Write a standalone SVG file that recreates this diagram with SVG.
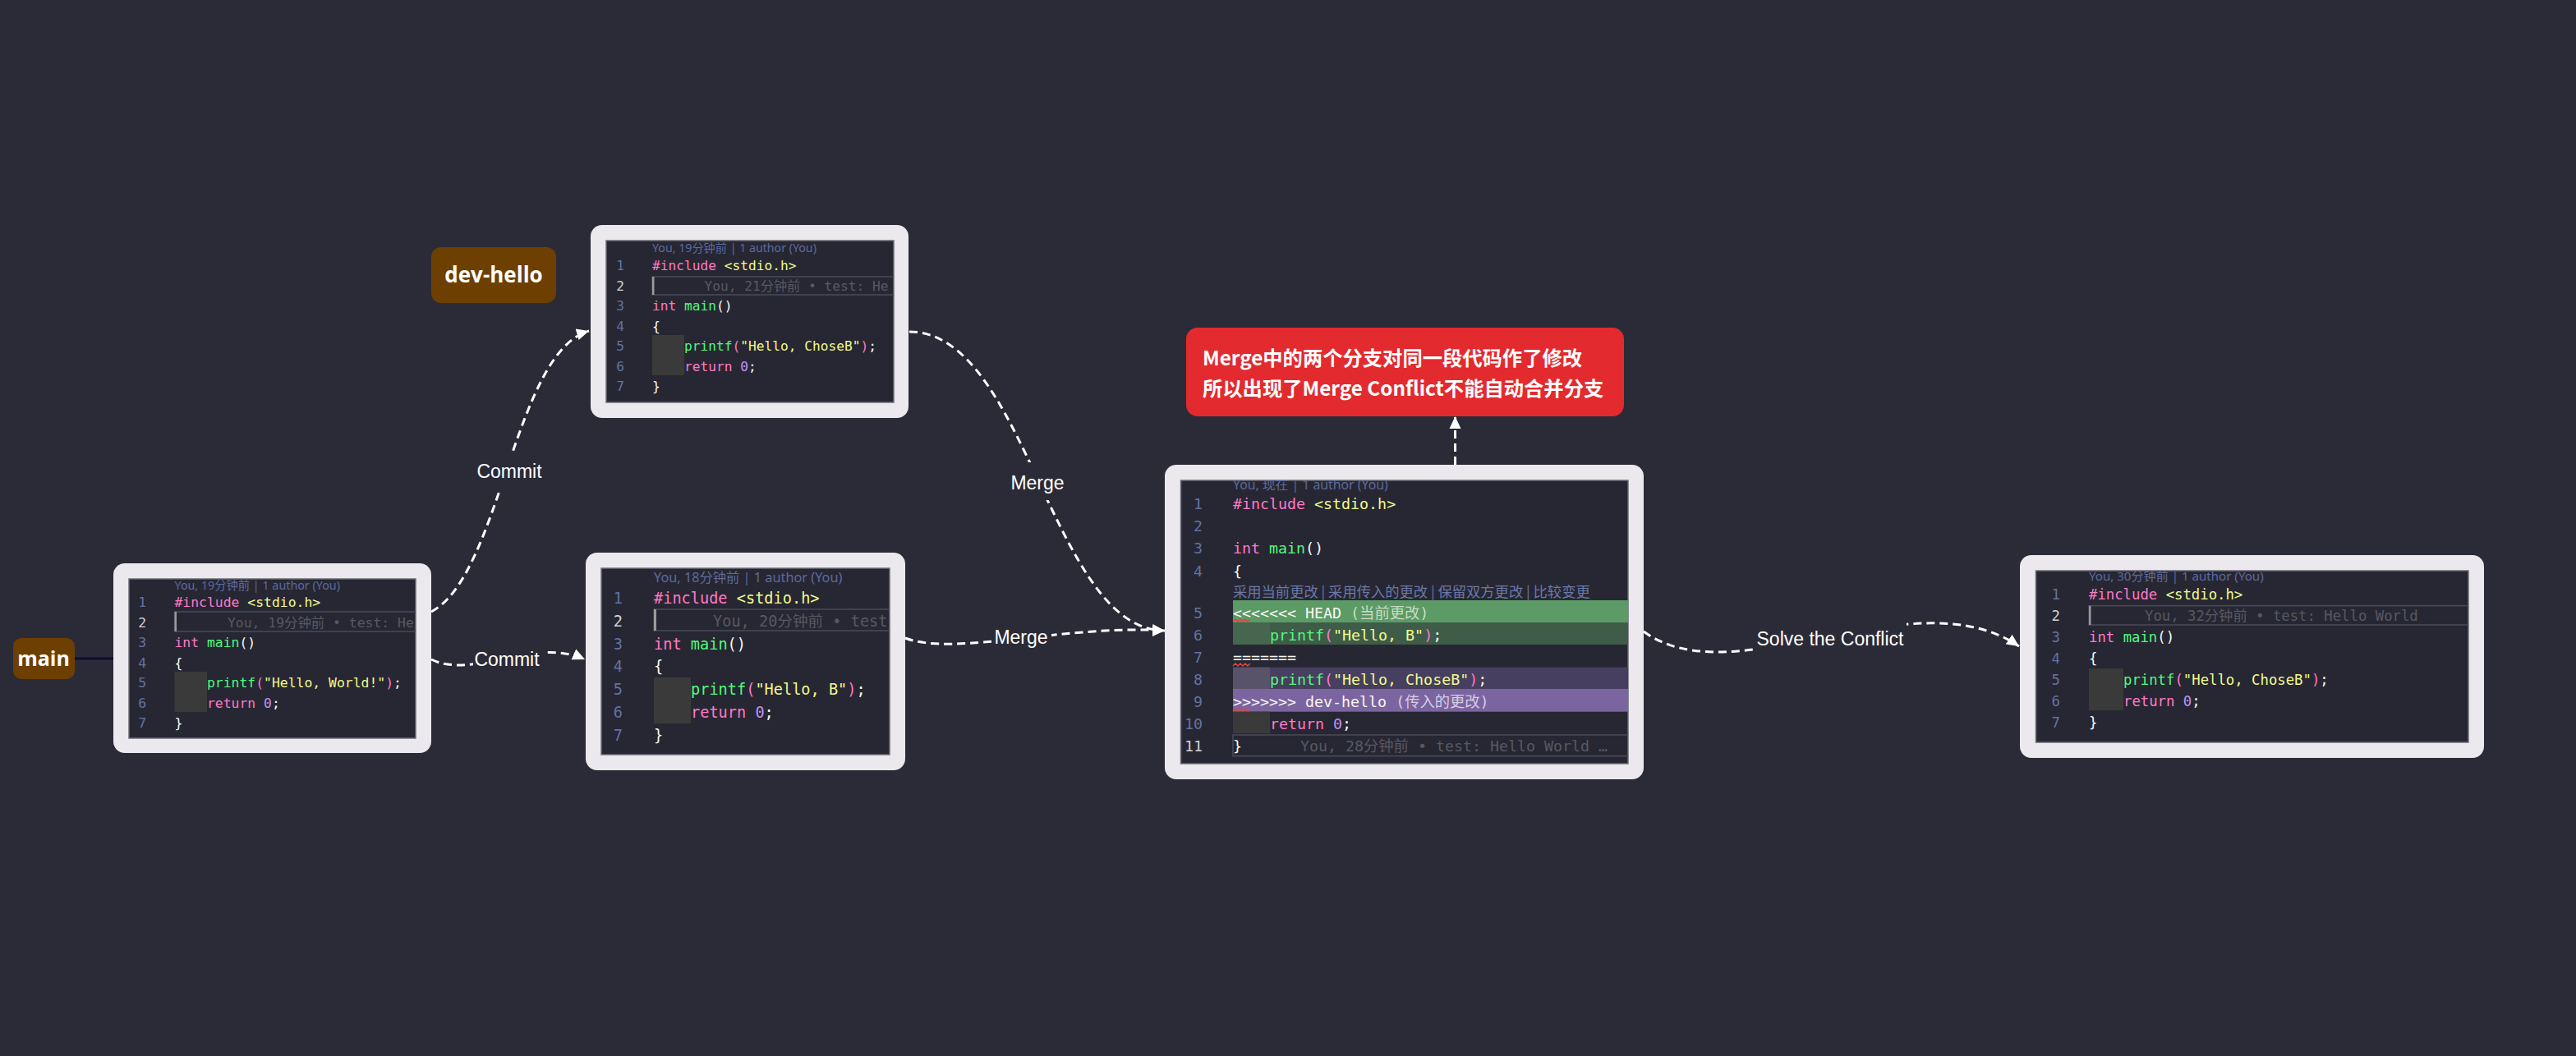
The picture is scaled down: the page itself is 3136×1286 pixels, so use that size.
<svg xmlns="http://www.w3.org/2000/svg" width="3136" height="1286" viewBox="0 0 3136 1286">
<style>
.frame{fill:#ebe9ed}
.inner{fill:#272733;stroke:#6c6c76;stroke-width:1.5}
.code{font-family:'DejaVu Sans Mono','Noto Sans CJK SC',monospace;fill:#f8f8f2}
.ln{font-family:'DejaVu Sans Mono',monospace;fill:#6272a4;text-anchor:end}
.cur{fill:#d2d2d2}
.kw{fill:#ff79c6}
.str{fill:#f1fa8c}
.fn{fill:#50fa7b}
.num{fill:#bd93f9}
.blame{fill:#585862}
.hdr{font-family:'Noto Sans','Noto Sans CJK SC',sans-serif;fill:#5d6a9e}
.lbox{fill:none;stroke:#4a4a5a;stroke-width:1.5}
.bar{fill:#9a9a9a}
.blk{fill:#3a3a3a}
.tag{fill:#6d3f00}
.tagt{font-family:'Open Sans','Liberation Sans',sans-serif;font-weight:bold;fill:#ffffff;text-anchor:middle}
.edge{fill:none;stroke:#ffffff;stroke-width:3;stroke-dasharray:10 6}
.elabel{font-family:'Liberation Sans',sans-serif;font-size:23px;fill:#ffffff;text-anchor:middle}
.gap{fill:#2b2b37}
.squig{fill:none;stroke:#e0443e;stroke-width:1.5}
</style>
<defs>
<marker id="arr" markerUnits="userSpaceOnUse" markerWidth="16" markerHeight="16" refX="15" refY="8" orient="auto">
<path d="M0,1 L15,8 L0,15 z" fill="#ffffff"/>
</marker>
<clipPath id="c1"><rect x="157" y="705" width="349" height="194"/></clipPath>
<clipPath id="c2"><rect x="738" y="293" width="350" height="197"/></clipPath>
<clipPath id="c3"><rect x="732" y="692" width="351" height="227"/></clipPath>
<clipPath id="c4"><rect x="1437.5" y="585" width="544.5" height="345"/></clipPath>
<clipPath id="c5"><rect x="2478.5" y="695" width="526.5" height="209"/></clipPath>
</defs>
<rect x="0" y="0" width="3136" height="1286" fill="#2b2b37"/>

<g id="connectors">
<line x1="91" y1="802" x2="138" y2="802" stroke="#0c0c34" stroke-width="3"/>
<path class="edge" d="M525,745 C610,700 625,430 717,403" marker-end="url(#arr)"/>
<path class="edge" d="M525,803 C575,828 650,775 712,803" marker-end="url(#arr)"/>
<path class="edge" d="M1107,404 C1250,404 1280,768 1418,768" marker-end="url(#arr)"/>
<path class="edge" d="M1102,777 C1160,800 1300,760 1418,768" marker-end="url(#arr)"/>
<path class="edge" d="M2001,769 C2110,850 2330,700 2458,787" marker-end="url(#arr)"/>
<path class="edge" d="M1771.5,566 L1771.5,507" marker-end="url(#arr)"/>
<rect class="gap" x="578" y="552" width="84" height="44"/>
<text class="elabel" x="620" y="582">Commit</text>
<rect class="gap" x="576" y="786" width="85" height="32"/>
<text class="elabel" x="617" y="811">Commit</text>
<rect class="gap" x="1228" y="563" width="70" height="46"/>
<text class="elabel" x="1263" y="596">Merge</text>
<rect class="gap" x="1208" y="763" width="72" height="28"/>
<text class="elabel" x="1243" y="784">Merge</text>
<rect class="gap" x="2136" y="758" width="185" height="42"/>
<text class="elabel" x="2228" y="786">Solve the Conflict</text>
</g>

<g id="main-label">
<rect class="tag" x="16" y="777" width="75" height="50" rx="10"/>
<text class="tagt" x="53" y="811" font-size="25">main</text>
</g>

<g id="dev-hello-label">
<rect class="tag" x="525" y="301" width="152" height="68" rx="12"/>
<text class="tagt" x="601" y="344" font-size="26">dev-hello</text>
</g>

<g id="commit-main">
<rect class="frame" x="138" y="686" width="387" height="231" rx="14"/>
<rect class="inner" x="157" y="705" width="349" height="194"/>
<g clip-path="url(#c1)" font-size="16.4">
<text class="hdr" x="212.5" y="718" font-size="14.3">You, 19分钟前 | 1 author (You)</text>
<rect class="lbox" x="212.5" y="745" width="300" height="24"/>
<rect class="bar" x="212.5" y="745" width="2.5" height="24"/>
<rect class="blk" x="212.5" y="818" width="39.5" height="49"/>
<text class="ln" x="178" y="739">1</text>
<text class="ln cur" x="178" y="763.5">2</text>
<text class="ln" x="178" y="788">3</text>
<text class="ln" x="178" y="812.5">4</text>
<text class="ln" x="178" y="837">5</text>
<text class="ln" x="178" y="861.5">6</text>
<text class="ln" x="178" y="886">7</text>
<text class="code" x="212.5" y="739"><tspan class="kw">#include</tspan> <tspan class="str">&lt;stdio.h&gt;</tspan></text>
<text class="code blame" x="277" y="763.5">You, 19分钟前 • test: He</text>
<text class="code" x="212.5" y="788"><tspan class="kw">int</tspan> <tspan class="fn">main</tspan>()</text>
<text class="code" x="212.5" y="812.5">{</text>
<text class="code" x="252" y="837"><tspan class="fn">printf</tspan><tspan class="kw">(</tspan><tspan class="str">"Hello, World!"</tspan><tspan class="kw">)</tspan>;</text>
<text class="code" x="252" y="861.5"><tspan class="kw">return</tspan> <tspan class="num">0</tspan>;</text>
<text class="code" x="212.5" y="886">}</text>
</g>
</g>

<g id="commit-dev-hello">
<rect class="frame" x="719" y="274" width="387" height="235" rx="14"/>
<rect class="inner" x="738" y="293" width="350" height="197"/>
<g clip-path="url(#c2)" font-size="16.2">
<text class="hdr" x="794" y="307" font-size="14.2">You, 19分钟前 | 1 author (You)</text>
<rect class="lbox" x="794" y="337" width="300" height="22"/>
<rect class="bar" x="794" y="337" width="2.5" height="22"/>
<rect class="blk" x="794" y="408" width="39" height="49"/>
<text class="ln" x="760" y="329">1</text>
<text class="ln cur" x="760" y="353.5">2</text>
<text class="ln" x="760" y="378">3</text>
<text class="ln" x="760" y="402.5">4</text>
<text class="ln" x="760" y="427">5</text>
<text class="ln" x="760" y="451.5">6</text>
<text class="ln" x="760" y="476">7</text>
<text class="code" x="794" y="329"><tspan class="kw">#include</tspan> <tspan class="str">&lt;stdio.h&gt;</tspan></text>
<text class="code blame" x="857.5" y="353.5">You, 21分钟前 • test: He</text>
<text class="code" x="794" y="378"><tspan class="kw">int</tspan> <tspan class="fn">main</tspan>()</text>
<text class="code" x="794" y="402.5">{</text>
<text class="code" x="833" y="427"><tspan class="fn">printf</tspan><tspan class="kw">(</tspan><tspan class="str">"Hello, ChoseB"</tspan><tspan class="kw">)</tspan>;</text>
<text class="code" x="833" y="451.5"><tspan class="kw">return</tspan> <tspan class="num">0</tspan>;</text>
<text class="code" x="794" y="476">}</text>
</g>
</g>

<g id="commit-main-b">
<rect class="frame" x="713" y="673" width="389" height="265" rx="14"/>
<rect class="inner" x="732" y="692" width="351" height="227"/>
<g clip-path="url(#c3)" font-size="18.6">
<text class="hdr" x="796" y="709" font-size="16.3">You, 18分钟前 | 1 author (You)</text>
<rect class="lbox" x="796" y="742" width="295" height="26"/>
<rect class="bar" x="796" y="742" width="3" height="26"/>
<rect class="blk" x="796" y="825" width="45" height="56"/>
<text class="ln" x="758" y="735">1</text>
<text class="ln cur" x="758" y="762.7">2</text>
<text class="ln" x="758" y="790.7">3</text>
<text class="ln" x="758" y="818.4">4</text>
<text class="ln" x="758" y="846.2">5</text>
<text class="ln" x="758" y="873.7">6</text>
<text class="ln" x="758" y="901.7">7</text>
<text class="code" x="796" y="735"><tspan class="kw">#include</tspan> <tspan class="str">&lt;stdio.h&gt;</tspan></text>
<text class="code blame" x="868" y="762.7">You, 20分钟前 • test</text>
<text class="code" x="796" y="790.7"><tspan class="kw">int</tspan> <tspan class="fn">main</tspan>()</text>
<text class="code" x="796" y="818.4">{</text>
<text class="code" x="841" y="846.2"><tspan class="fn">printf</tspan><tspan class="kw">(</tspan><tspan class="str">"Hello, B"</tspan><tspan class="kw">)</tspan>;</text>
<text class="code" x="841" y="873.7"><tspan class="kw">return</tspan> <tspan class="num">0</tspan>;</text>
<text class="code" x="796" y="901.7">}</text>
</g>
</g>

<g id="conflict-note">
<rect x="1444" y="399" width="533" height="108" rx="14" fill="#e32b2f"/>
<text x="1464" y="445" font-family="'Noto Sans CJK SC','Noto Sans',sans-serif" font-weight="bold" font-size="24.3" fill="#ffffff">Merge中的两个分支对同一段代码作了修改</text>
<text x="1464" y="482" font-family="'Noto Sans CJK SC','Noto Sans',sans-serif" font-weight="bold" font-size="24.3" fill="#ffffff">所以出现了Merge Conflict不能自动合并分支</text>
</g>

<g id="merge-conflict">
<rect class="frame" x="1418" y="566" width="583" height="383" rx="14"/>
<rect class="inner" x="1437.5" y="585" width="544.5" height="345"/>
<g clip-path="url(#c4)" font-size="18.3">
<text class="hdr" x="1501" y="596" font-size="15.8">You, 现在 | 1 author (You)</text>
<rect x="1501" y="731" width="481" height="27.5" fill="#5c9a66"/>
<rect x="1501" y="758.5" width="481" height="26.5" fill="#3e5c48"/>
<rect x="1501" y="758.5" width="45" height="26.5" fill="#46664f"/>
<rect x="1501" y="812.7" width="481" height="26.3" fill="#463f5f"/>
<rect x="1501" y="812.7" width="45" height="26.3" fill="#59536a"/>
<rect x="1501" y="839" width="481" height="27.7" fill="#7b65a0"/>
<rect class="blk" x="1501" y="866.7" width="45" height="26.3"/>
<rect class="lbox" x="1501" y="895" width="490" height="25.7"/>
<path class="squig" d="M1501,757 l3,-3 l3,3 l3,-3 l3,3 l3,-3 l3,3 l3,-3"/>
<path class="squig" d="M1501,811 l3,-3 l3,3 l3,-3 l3,3 l3,-3 l3,3 l3,-3"/>
<path class="squig" d="M1501,866 l3,-3 l3,3 l3,-3 l3,3 l3,-3 l3,3 l3,-3"/>
<text class="ln" x="1464" y="619.6">1</text>
<text class="ln" x="1464" y="647">2</text>
<text class="ln" x="1464" y="674">3</text>
<text class="ln" x="1464" y="701.5">4</text>
<text class="ln" x="1464" y="752.5">5</text>
<text class="ln" x="1464" y="779.5">6</text>
<text class="ln" x="1464" y="806.5">7</text>
<text class="ln" x="1464" y="833.5">8</text>
<text class="ln" x="1464" y="860.5">9</text>
<text class="ln" x="1464" y="887.5">10</text>
<text class="ln cur" x="1464" y="914.5">11</text>
<text class="code" x="1501" y="619.6"><tspan class="kw">#include</tspan> <tspan class="str">&lt;stdio.h&gt;</tspan></text>
<text class="code" x="1501" y="674"><tspan class="kw">int</tspan> <tspan class="fn">main</tspan>()</text>
<text class="code" x="1501" y="701.5">{</text>
<text x="1501" y="727" font-family="'Noto Sans CJK SC',sans-serif" font-size="17.3" fill="#6b78a8">采用当前更改 | 采用传入的更改 | 保留双方更改 | 比较变更</text>
<text class="code" x="1501" y="752.5">&lt;&lt;&lt;&lt;&lt;&lt;&lt; HEAD <tspan fill="#c9dcc2">(当前更改)</tspan></text>
<text class="code" x="1546" y="779.5"><tspan class="fn">printf</tspan><tspan class="kw">(</tspan><tspan class="str">"Hello, B"</tspan><tspan class="kw">)</tspan>;</text>
<text class="code" x="1501" y="806.5">=======</text>
<text class="code" x="1546" y="833.5"><tspan class="fn">printf</tspan><tspan class="kw">(</tspan><tspan class="str">"Hello, ChoseB"</tspan><tspan class="kw">)</tspan>;</text>
<text class="code" x="1501" y="860.5">&gt;&gt;&gt;&gt;&gt;&gt;&gt; dev-hello <tspan fill="#d6cde6">(传入的更改)</tspan></text>
<text class="code" x="1546" y="887.5"><tspan class="kw">return</tspan> <tspan class="num">0</tspan>;</text>
<text class="code" x="1501" y="914.5">}</text>
<text class="code blame" x="1583" y="914.5">You, 28分钟前 • test: Hello World …</text>
</g>
</g>

<g id="resolved">
<rect class="frame" x="2459" y="676" width="565" height="247" rx="14"/>
<rect class="inner" x="2478.5" y="695" width="526.5" height="209"/>
<g clip-path="url(#c5)" font-size="17.3">
<text class="hdr" x="2543" y="707" font-size="15.1">You, 30分钟前 | 1 author (You)</text>
<rect class="lbox" x="2543" y="737.7" width="470" height="23.3"/>
<rect class="bar" x="2543" y="737.7" width="2.5" height="23.3"/>
<rect class="blk" x="2543" y="814" width="42" height="51"/>
<text class="ln" x="2508" y="729.5">1</text>
<text class="ln cur" x="2508" y="755.5">2</text>
<text class="ln" x="2508" y="781.5">3</text>
<text class="ln" x="2508" y="807.5">4</text>
<text class="ln" x="2508" y="833.5">5</text>
<text class="ln" x="2508" y="859.5">6</text>
<text class="ln" x="2508" y="885.5">7</text>
<text class="code" x="2543" y="729.5"><tspan class="kw">#include</tspan> <tspan class="str">&lt;stdio.h&gt;</tspan></text>
<text class="code blame" x="2611" y="755.5">You, 32分钟前 • test: Hello World</text>
<text class="code" x="2543" y="781.5"><tspan class="kw">int</tspan> <tspan class="fn">main</tspan>()</text>
<text class="code" x="2543" y="807.5">{</text>
<text class="code" x="2585" y="833.5"><tspan class="fn">printf</tspan><tspan class="kw">(</tspan><tspan class="str">"Hello, ChoseB"</tspan><tspan class="kw">)</tspan>;</text>
<text class="code" x="2585" y="859.5"><tspan class="kw">return</tspan> <tspan class="num">0</tspan>;</text>
<text class="code" x="2543" y="885.5">}</text>
</g>
</g>
</svg>
